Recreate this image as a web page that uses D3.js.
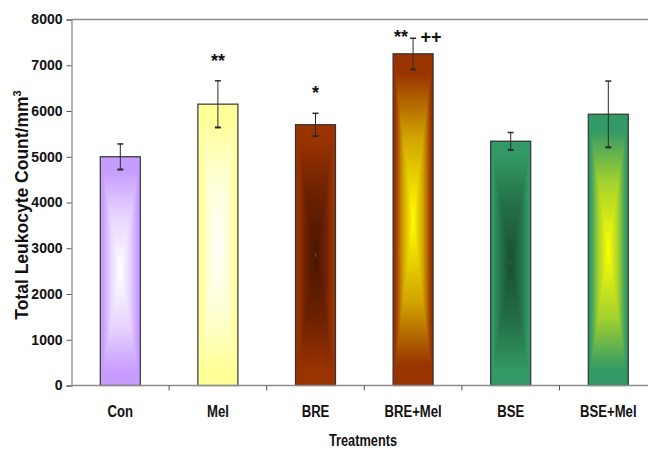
<!DOCTYPE html>
<html><head><meta charset="utf-8">
<script src="https://cdn.jsdelivr.net/npm/d3@7"></script>
<style>body{margin:0;background:#fff}svg{display:block}</style>
</head><body>
<svg id="chart" width="648" height="450"></svg>
<script>
const categories = ["Con","Mel","BRE","BRE+Mel","BSE","BSE+Mel"];
const values = [5000, 6150, 5700, 7250, 5340, 5930];
const errors = [280, 510, 250, 340, 190, 725];
const edgeColors = ["#c79cff","#ffff99","#993300","#993300","#339966","#339966"];
const centerColors = ["#ffffff","#ffffff","#4a1400","#ffff00","#17502f","#ffff00"];
const yTicks = [0,1000,2000,3000,4000,5000,6000,7000,8000];
const markCats = ["Mel","BRE","BRE+Mel","BRE+Mel"];
const markTexts = ["**","*","**","++"];

const svg = d3.select("#chart");
const font = "'Liberation Sans', Arial, sans-serif";
const x0 = 71.5, yTop = 19.5, yBot = 385.5;
const step = 97.6;
const x = d3.scaleBand().domain(categories).range([x0, x0 + step*categories.length]).paddingInner(0.59).paddingOuter(0.295);
const y = d3.scaleLinear().domain([0, 8000]).range([yBot, yTop]);

const defs = svg.append("defs");
categories.forEach((c,i)=>{
  const mk = (id, x1,y1,x2,y2) => {
    const g = defs.append("linearGradient").attr("id", id)
      .attr("x1",x1).attr("y1",y1).attr("x2",x2).attr("y2",y2);
    g.append("stop").attr("offset",0).attr("stop-color",edgeColors[i]);
    g.append("stop").attr("offset",0.12).attr("stop-color",edgeColors[i]);
    g.append("stop").attr("offset",0.5).attr("stop-color",d3.interpolateRgb(edgeColors[i],centerColors[i])(0.55));
    g.append("stop").attr("offset",1).attr("stop-color",centerColors[i]);
  };
  mk("gl"+i,0,0,1,0); mk("gr"+i,1,0,0,0); mk("gt"+i,0,0,0,1); mk("gb"+i,0,1,0,0);
});

// top border
svg.append("line").attr("x1",x0).attr("x2",648).attr("y1",yTop).attr("y2",yTop).attr("stroke","#8c8c8c").attr("stroke-width",1.3);

// y axis
const yAxis = svg.append("g").attr("transform",`translate(${x0},0)`)
  .call(d3.axisLeft(y).tickValues(yTicks).tickSize(5).tickPadding(4).tickFormat(d3.format("d")));
yAxis.select(".domain").attr("stroke","#8c8c8c").attr("stroke-width",1.3);
yAxis.selectAll(".tick line").attr("stroke","#555");
yAxis.selectAll(".tick text").attr("font-family",font).attr("font-weight","bold").attr("font-size",14).attr("fill","#111");

// bars
const bars = svg.append("g");
categories.forEach((c,i)=>{
  const bx = x(c), bw = x.bandwidth(), by = y(values[i]), bh = y(0)-y(values[i]);
  const cx = bx+bw/2, cy = by+bh/2;
  const g = bars.append("g");
  g.append("rect").attr("x",bx).attr("y",by).attr("width",bw/2).attr("height",bh).attr("fill",`url(#gl${i})`);
  g.append("rect").attr("x",cx).attr("y",by).attr("width",bw/2).attr("height",bh).attr("fill",`url(#gr${i})`);
  g.append("path").attr("d",`M${bx},${by}L${bx+bw},${by}L${cx},${cy}Z`).attr("fill",`url(#gt${i})`);
  g.append("path").attr("d",`M${bx},${by+bh}L${bx+bw},${by+bh}L${cx},${cy}Z`).attr("fill",`url(#gb${i})`);
  g.append("rect").attr("x",bx).attr("y",by).attr("width",bw).attr("height",bh)
    .attr("fill","none").attr("stroke","#333").attr("stroke-width",1.2);
});

// x axis line & ticks
svg.append("line").attr("x1",x0).attr("x2",648).attr("y1",yBot).attr("y2",yBot).attr("stroke","#8c8c8c").attr("stroke-width",1.3);
categories.forEach((c,i)=>{
  if(i===categories.length-1) return;
  const tx = x(c)+x.bandwidth()/2+step/2;
  svg.append("line").attr("x1",tx).attr("x2",tx).attr("y1",yBot).attr("y2",yBot+5).attr("stroke","#555");
});

// error bars
const eb = svg.append("g").attr("stroke","#2a2a2a").attr("stroke-width",1);
categories.forEach((c,i)=>{
  const cx = x(c)+x.bandwidth()/2;
  const t = y(values[i]+errors[i]), b = y(values[i]-errors[i]);
  eb.append("line").attr("x1",cx).attr("x2",cx).attr("y1",t).attr("y2",b);
  eb.append("line").attr("x1",cx-3).attr("x2",cx+3).attr("y1",t).attr("y2",t).attr("stroke-width",1.5);
  eb.append("line").attr("x1",cx-3).attr("x2",cx+3).attr("y1",b).attr("y2",b).attr("stroke-width",2);
});

// significance marks
markCats.forEach((c,k)=>{
  const i = categories.indexOf(c);
  const cx = x(c)+x.bandwidth()/2;
  const beside = markCats.filter(d=>d===c).length > 1;
  const dx = beside ? (markTexts[k]==="++" ? 18 : -12) : 0;
  const dy = beside ? 5 : -14;
  svg.append("text").attr("x",cx+dx).attr("y",y(values[i]+errors[i])+dy)
    .attr("text-anchor","middle").attr("font-family",font).attr("font-weight","bold").attr("font-size",18).attr("fill","#111").text(markTexts[k]);
});

// x labels (condensed look)
categories.forEach(c=>{
  svg.append("text").attr("transform",`translate(${x(c)+x.bandwidth()/2},417) scale(0.82,1)`).attr("text-anchor","middle")
    .attr("font-family",font).attr("font-weight","bold").attr("font-size",16).attr("fill","#111").text(c);
});
svg.append("text").attr("transform","translate(363,446) scale(0.8,1)").attr("text-anchor","middle")
  .attr("font-family",font).attr("font-weight","bold").attr("font-size",16).attr("fill","#111").text("Treatments");

// y title
const yt = svg.append("text").attr("transform","translate(28,205) rotate(-90)").attr("text-anchor","middle")
  .attr("font-family",font).attr("font-weight","bold").attr("font-size",17.5).attr("fill","#111");
yt.append("tspan").text("Total Leukocyte Count/mm");
yt.append("tspan").attr("dy",-7).attr("font-size",11).text("3");
</script>
</body></html>
